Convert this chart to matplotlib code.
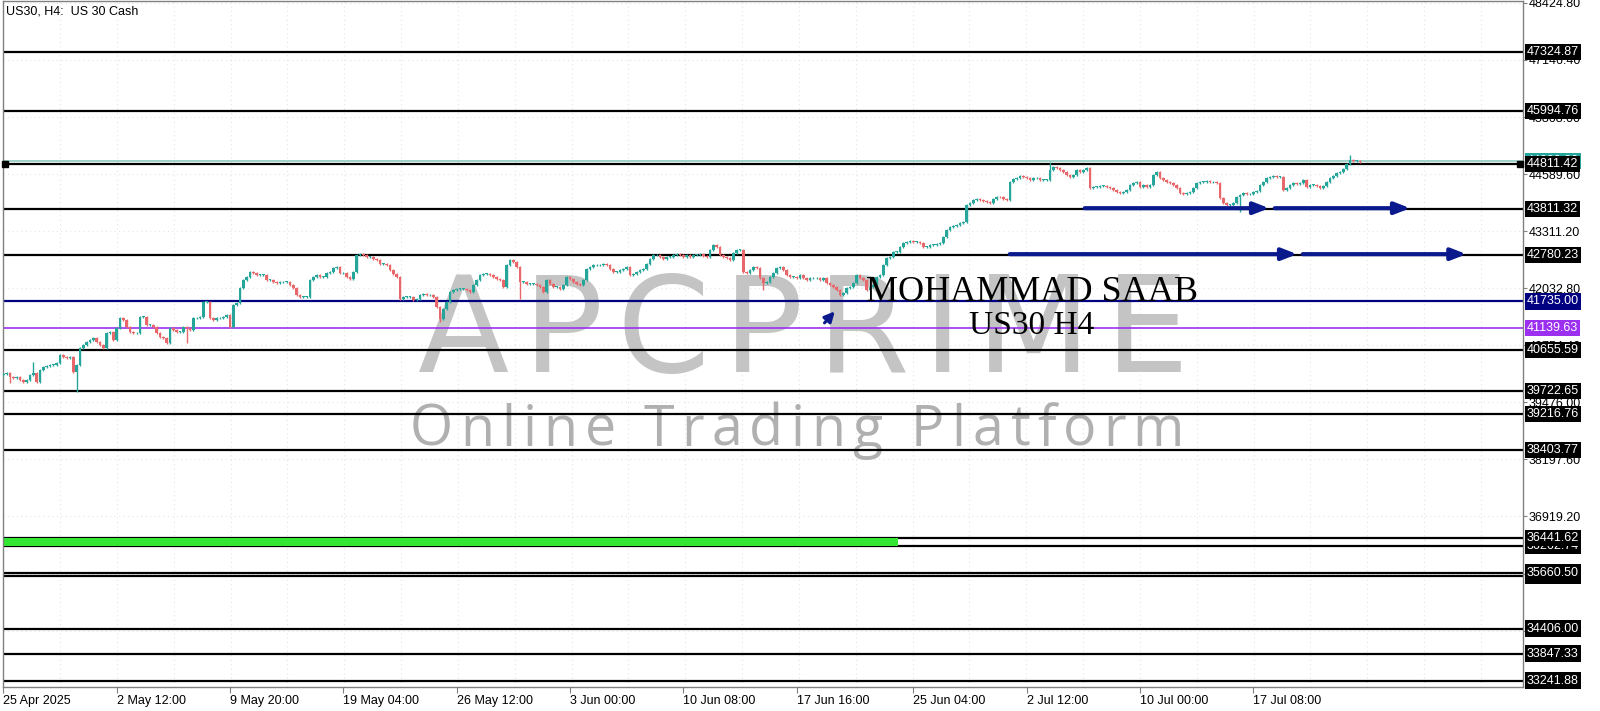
import matplotlib
matplotlib.use('Agg')
import matplotlib.pyplot as plt
import numpy as np

# H4 closes, left to right
closes_apr_may = [
    40111, 40126, 40051, 40014, 40051, 39976, 39939, 39976, 40089, 40126,
    39939, 40200, 40275, 40290, 40312, 40312, 40350, 40537, 40499, 40462,
    40499, 40163, 40312, 40686, 40760, 40835, 40873, 40910, 40835, 40760,
    40686, 41022, 41060, 40873, 41134, 41358, 41321, 41171, 41060, 41022,
    41022, 41395, 41395, 41209, 41209, 41171, 41022, 40947, 40910, 40798,
    41134, 41097, 41060, 41060, 41171, 41134, 41097, 41358, 41358, 41395,
    41731, 41731, 41358, 41321, 41358, 41358, 41395, 41433, 41171, 41657,
    41694, 42030, 42217, 42292, 42404, 42366, 42329, 42329, 42329, 42217,
    42217, 42180, 42157, 42165, 42180, 42180, 42105, 42030, 41881, 41843,
    41843, 41843, 42217, 42292, 42329, 42292, 42292, 42366, 42404, 42478,
    42516, 42366, 42366,
]
closes_may_jun = [
    42284, 42246, 42396, 42769, 42807, 42769, 42732, 42732, 42695, 42657,
    42583, 42583, 42545, 42433, 42358, 42284, 41798, 41836, 41836, 41836,
    41761, 41798, 41873, 41910, 41873, 41873, 41836, 41612, 41350, 41574,
    41724, 41948, 41985, 42022, 42022, 42022, 41985, 41948, 42097, 42209,
    42321, 42358, 42358, 42321, 42284, 42246, 42209, 42060, 42545, 42657,
    42620, 42508, 42172, 42172, 42134, 42134, 42134, 42097, 42060, 41948,
    42209, 42134, 42060, 42060, 42022, 42097, 42284, 42246, 42172, 42134,
    42097, 42209, 42470, 42508, 42545, 42545, 42545, 42583, 42545, 42470,
    42396, 42396, 42433, 42470, 42508, 42321, 42358, 42396, 42433, 42470,
    42583, 42695, 42769, 42769, 42732, 42695, 42732, 42732, 42769, 42807,
    42769, 42732,
]
closes_jun = [
    42777, 42739, 42777, 42777, 42799, 42754, 42739, 42889, 43001, 42963,
    42777, 42739, 42702, 42665, 42814, 42889, 42889, 42403, 42366, 42440,
    42515, 42478, 42254, 42142, 42179, 42291, 42366, 42478, 42515, 42440,
    42329, 42291, 42291, 42254, 42329, 42254, 42217, 42254, 42254, 42254,
    42217, 42254, 42142, 42104, 42067, 41993, 41880, 41918, 42030, 42067,
    42142, 42329, 42254, 42217, 41993, 42067, 42104, 42291, 42329, 42553,
    42702, 42739, 42851, 42851, 42963, 43038, 43075, 43098, 43075, 43075,
    43038, 42963, 42963, 43001, 43001, 43023, 43053, 43187, 43337, 43396,
    43426, 43449, 43486, 43523, 43897, 43934, 44009, 44024, 44009, 43994,
    43971, 43949, 44024, 44084, 44069, 44024, 44009, 44420, 44472, 44494,
    44546, 44531,
]
closes_jul = [
    44494, 44457, 44494, 44494, 44457, 44457, 44457, 44681, 44756, 44718,
    44681, 44644, 44569, 44532, 44569, 44681, 44644, 44681, 44718, 44270,
    44308, 44308, 44330, 44330, 44308, 44270, 44233, 44196, 44158, 44196,
    44233, 44345, 44382, 44420, 44308, 44345, 44308, 44345, 44569, 44644,
    44494, 44457, 44420, 44382, 44345, 44270, 44158, 44136, 44158, 44181,
    44270, 44382, 44420, 44420, 44435, 44405, 44420, 44382, 44046, 43934,
    43897, 43897, 43934, 44083, 44121, 44158, 44136, 44151, 44196, 44211,
    44345, 44420, 44494, 44532, 44554, 44532, 44532, 44233, 44270, 44345,
    44382, 44360, 44382, 44457, 44308, 44345, 44345, 44330, 44285, 44330,
    44420, 44494, 44554, 44606, 44644, 44703, 44808, 44905, 44883, 44883,
    44868,
]
first_open = 40080

# long shadows that stand out
spike_bars = [2, 9, 22, 55, 131, 155, 228, 314, 371, 404]
spike_prices = [39902, 40387, 39714, 40798, 41276, 41798, 41993, 44853, 43747, 45017]

# horizontal levels drawn on the chart
levels = [47324.87, 45994.76, 44811.42, 43811.32, 42780.23, 41735.00, 41139.63,
          40655.59, 39722.65, 39216.76, 38403.77, 36262.74, 36441.62, 35585.37,
          35660.50, 34406.00, 33847.33, 33241.88]
level_colors = ['black'] * 5 + ['#000080', '#9b30f0'] + ['black'] * 11
bid_price = 44880

y_ticks = [48424.80, 47146.40, 45868.00, 44589.60, 43311.20, 42032.80, 40754.40,
           39476.00, 38197.60, 36919.20, 35640.80, 34362.40]
x_ticks = [0, 34, 68, 102, 136, 170, 204, 238, 273, 307, 341, 375]
x_labels = ['25 Apr 2025', '2 May 12:00', '9 May 20:00', '19 May 04:00', '26 May 12:00',
            '3 Jun 00:00', '10 Jun 08:00', '17 Jun 16:00', '25 Jun 04:00', '2 Jul 12:00',
            '10 Jul 00:00', '17 Jul 08:00']

closes = np.array(closes_apr_may + closes_may_jun + closes_jun + closes_jul, dtype=float)
opens = np.concatenate([[first_open], closes[:-1]])
n = len(closes)
idx = np.arange(n)
hi = np.maximum(opens, closes) + 20
lo = np.minimum(opens, closes) - 20
for b, p in zip(spike_bars, spike_prices):
    if b < n:
        if p > hi[b]:
            hi[b] = p
        else:
            lo[b] = p

fig = plt.figure(figsize=(16, 7.11), dpi=100)
ax = fig.add_axes([3 / 1600, 1 - 687 / 711, 1520 / 1600, 686 / 711])
ax.set_xlim(-0.1, 455.9)
ax.set_ylim(33098, 48467)

# grid
for k in range(1, 27):
    ax.axvline(k * 17.05, color='#e4e4e4', lw=0.8, ls=(0, (1, 3)), zorder=0)
for t in y_ticks:
    ax.axhline(t, color='#e4e4e4', lw=0.8, ls=(0, (1, 3)), zorder=0)


def spaced_text(s, x0, x1, y_px, **kw):
    # lay the letters out one by one so the word fills x0..x1 (figure pixels)
    r = fig.canvas.get_renderer()
    widths = []
    for ch in s:
        t = ax.text(0, 0, ch if ch != ' ' else 'i', **kw)
        widths.append(t.get_window_extent(r).width)
        t.remove()
    gap = (x1 - x0 - sum(widths)) / (len(s) - 1)
    x = x0
    for ch, w in zip(s, widths):
        if ch != ' ':
            ax.text((x - 3) / 1520, (687 - y_px) / 686, ch, transform=ax.transAxes,
                    ha='left', va='baseline', zorder=0.5, **kw)
        x += w + gap


# watermark
spaced_text('APCPRIME', 418, 1189, 372, fontsize=96, color='#c4c4c4', family='DejaVu Sans')
spaced_text('Online Trading Platform', 410, 1184, 446, fontsize=40, color='#b0b0b0',
            family='Open Sans')

# candles
up = closes >= opens
bull, bear = '#26a69a', '#e8676b'
colors = np.where(up, bull, bear)
ax.vlines(idx, lo, hi, colors=colors, lw=1.0, zorder=3)
body_lo = np.minimum(opens, closes)
body_h = np.maximum(np.abs(closes - opens), 14)
ax.bar(idx, body_h, bottom=body_lo, width=0.75, color=colors, lw=0, zorder=3)

# levels
ax.axhline(bid_price, color='#8fc9c0', lw=1.2, zorder=2)
for lv, c in zip(levels, level_colors):
    ax.axhline(lv, color=c, lw=1.2 if c == '#9b30f0' else 1.6, zorder=2)
ax.fill_between([0, 268.4], 36262.74, 36441.62, color='#33e633', lw=0, zorder=2)
ax.plot([0.5, 455.0], [44811.42, 44811.42], 's', color='black', ms=5, clip_on=False, zorder=4)

# arrows
arrow_props = dict(arrowstyle='-|>,head_length=0.9,head_width=0.35', color='#0a1a8c', lw=3)
ax.annotate('', xy=(380.6, 43825), xytext=(323.6, 43825), arrowprops=arrow_props, zorder=4)
ax.annotate('', xy=(422.9, 43825), xytext=(380.6, 43825), arrowprops=arrow_props, zorder=4)
ax.annotate('', xy=(389.0, 42795), xytext=(301.1, 42795), arrowprops=arrow_props, zorder=4)
ax.annotate('', xy=(439.8, 42795), xytext=(389.0, 42795), arrowprops=arrow_props, zorder=4)
ax.annotate('', xy=(250.0, 41560), xytext=(245.8, 41209),
            arrowprops=dict(arrowstyle='-|>,head_length=0.6,head_width=0.3',
                            color='#0a1a8c', lw=2.2), zorder=4)

ax.text(308.6, 41926, 'MOHAMMAD SAAB', ha='center', va='center', fontsize=26,
        family='Liberation Serif', color='black', zorder=5)
ax.text(308.4, 41200, 'US30 H4', ha='center', va='center', fontsize=24,
        family='Liberation Serif', color='black', zorder=5)

# axes styling
for s in ax.spines.values():
    s.set_color('#808080')
    s.set_linewidth(1)
ax.set_xticks(x_ticks)
ax.set_xticklabels(x_labels, ha='left', fontsize=9, family='Liberation Sans')
ax.tick_params(axis='x', direction='out', length=4, color='#808080', pad=2)
ax.yaxis.tick_right()
ax.set_yticks(y_ticks)
ax.set_yticklabels(['%.2f' % t for t in y_ticks], fontsize=9, family='Liberation Sans')
ax.tick_params(axis='y', direction='out', length=3, color='#808080', pad=1)

tr = ax.get_yaxis_transform()
ax.text(1.0025, bid_price, '44880.00', transform=tr, ha='left', va='center',
        fontsize=9, family='Liberation Sans', color='white', clip_on=False, zorder=6,
        bbox=dict(facecolor='#26a69a', edgecolor='none', pad=1.5))
for lv, c in zip(levels, level_colors):
    ax.text(1.0025, lv, '%.2f' % lv, transform=tr, ha='left', va='center', fontsize=9,
            family='Liberation Sans', color='white', clip_on=False, zorder=7,
            bbox=dict(facecolor=c, edgecolor='none', pad=1.5))

ax.text(0.002, 0.985, 'US30, H4:  US 30 Cash', transform=ax.transAxes, ha='left', va='center',
        fontsize=9, family='Liberation Sans', color='black', zorder=6)

fig.savefig('out.png', dpi=100, facecolor='white')
